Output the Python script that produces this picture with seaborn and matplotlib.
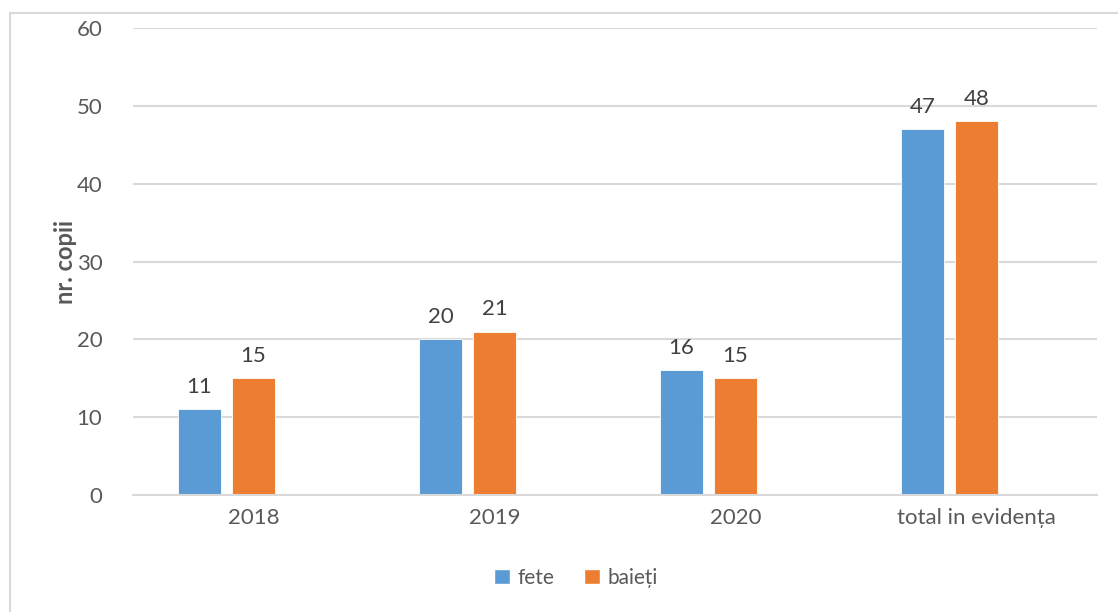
import matplotlib
matplotlib.use("Agg")
import matplotlib.pyplot as plt
from matplotlib.patches import Rectangle, Patch
import seaborn as sns
import pandas as pd

categories = ["2018", "2019", "2020", "total in evidența"]
fete = [11, 20, 16, 47]
baieti = [15, 21, 15, 48]
series_names = ["fete", "baieți"]
y_ticks = [0, 10, 20, 30, 40, 50, 60]
y_label = "nr. copii"

sns.set_theme(style="white")
plt.rcParams["font.family"] = ["Lato", "DejaVu Sans"]

df = pd.DataFrame({
    "cat": categories * 2,
    "val": fete + baieti,
    "serie": [series_names[0]] * len(categories) + [series_names[1]] * len(categories),
})

BLUE = "#5B9BD5"
ORANGE = "#ED7D31"
TXT = "#595959"
GRID = "#D9D9D9"

W, H = 1118, 612
fig = plt.figure(figsize=(W / 100, H / 100), dpi=100)
ax = fig.add_axes([133 / W, 1 - 495 / H, (1097 - 133) / W, (495 - 28) / H])

hue_order = series_names + [" "]
palette = {series_names[0]: BLUE, series_names[1]: ORANGE, " ": "white"}
sns.barplot(data=df, x="cat", y="val", hue="serie", hue_order=hue_order,
            order=categories, palette=palette, width=0.672, gap=0.22,
            saturation=1, legend=False, ax=ax, edgecolor="white", linewidth=0.6)

for c in ax.containers:
    ax.bar_label(c, padding=9, fontsize=16, color="#404040")

ax.set_ylim(0, 60)
ax.set_xlim(-0.5, len(categories) - 0.5)
ax.set_yticks(y_ticks)
ax.yaxis.grid(True, color=GRID, linewidth=1.5)
ax.set_axisbelow(True)
for s in ["top", "right", "left"]:
    ax.spines[s].set_visible(False)
ax.spines["bottom"].set_color(GRID)
ax.spines["bottom"].set_linewidth(1.5)

ax.tick_params(axis="y", length=0, pad=22, labelsize=16, labelcolor=TXT)
ax.tick_params(axis="x", which="major", length=0, pad=9, labelsize=16, labelcolor=TXT)
ax.set_xticks([i - 0.5 for i in range(len(categories) + 1)], minor=True)
ax.tick_params(axis="x", which="minor", length=6, width=1.5, color=GRID, direction="out")
ax.set_xlabel("")
ax.set_ylabel(y_label, fontsize=17, color=TXT, fontweight="bold", labelpad=0)

handles = [Patch(facecolor=BLUE), Patch(facecolor=ORANGE)]
fig.legend(handles, series_names, loc="center", bbox_to_anchor=(576 / W, 1 - 578 / H),
           ncol=2, frameon=False, fontsize=15, labelcolor=TXT,
           handlelength=0.75, handleheight=0.75, handletextpad=0.4, columnspacing=1.4)

fig.patches.append(Rectangle((10 / W, -0.1), 1.2, 1 - 13 / H + 0.1, transform=fig.transFigure,
                             fill=False, edgecolor="#D9D9D9", linewidth=1.5, zorder=0))

fig.savefig("out.png", dpi=100, facecolor="white")
